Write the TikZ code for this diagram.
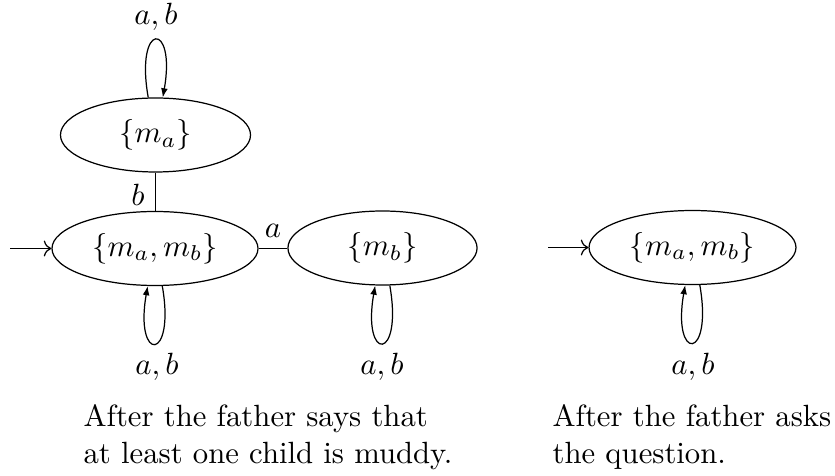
\documentclass[tikz,border=0pt]{standalone}
\usetikzlibrary{shapes.geometric,arrows.meta}
\begin{document}
\begin{tikzpicture}[x=0.3257pt,y=-0.3257pt,
  world/.style={draw,ellipse,inner sep=0pt,minimum height=24.1pt},
  lbl/.style={inner sep=0pt},
  captext/.style={anchor=north west,inner sep=0pt,align=left,font=\fontsize{10}{12}\selectfont},
  loopline/.style={-{Latex[length=3pt,width=2.2pt]}},
  initarr/.style={->}]
\useasboundingbox (0,0) rectangle (835,476);
% nodes
\node[world,minimum width=61.9pt] (ma) at (155.5,135) {$\{m_a\}$};
\node[world,minimum width=67.1pt] (mab) at (155,248.5) {$\{m_a,m_b\}$};
\node[world,minimum width=61.6pt] (mb) at (382.5,248) {$\{m_b\}$};
\node[world,minimum width=67.4pt] (mab2) at (692.5,247.5) {$\{m_a,m_b\}$};
% labels
\node[lbl] (lab1) at (156,17) {$a,b$};
\node[lbl] (lab2) at (157,367) {$a,b$};
\node[lbl] (lab3) at (382,367) {$a,b$};
\node[lbl] (lab4) at (693,367) {$a,b$};
\node[lbl] (lb) at (138,195) {$b$};
\node[lbl] (la) at (273,231) {$a$};
% initial arrows
\coordinate (s1) at (10,248.5);
\coordinate (s2) at (548,247.5);
\draw[initarr] (s1) -- (mab);
\draw[initarr] (s2) -- (mab2);
% edges
\draw (ma.south -| 155.5,0) -- (mab.north -| 155.5,0);
\draw (mab.east |- 0,248.5) -- (mb.west |- 0,248.5);
% loops
\draw[loopline] (ma.101) .. controls +(100:25.4pt) and +(80:25.4pt) .. (ma.79);
\draw[loopline] (mab.281) .. controls +(280:25.4pt) and +(260:25.4pt) .. (mab.259);
\draw[loopline] (mb.281) .. controls +(280:25.4pt) and +(260:25.4pt) .. (mb.259);
\draw[loopline] (mab2.281) .. controls +(280:25.4pt) and +(260:25.4pt) .. (mab2.259);
% captions
\node[captext] (c1) at (83,403.7) {After the father says that\\at least one child is muddy.};
\node[captext] (c2) at (552,403.7) {After the father asks\\the question.};
\end{tikzpicture}
\end{document}
